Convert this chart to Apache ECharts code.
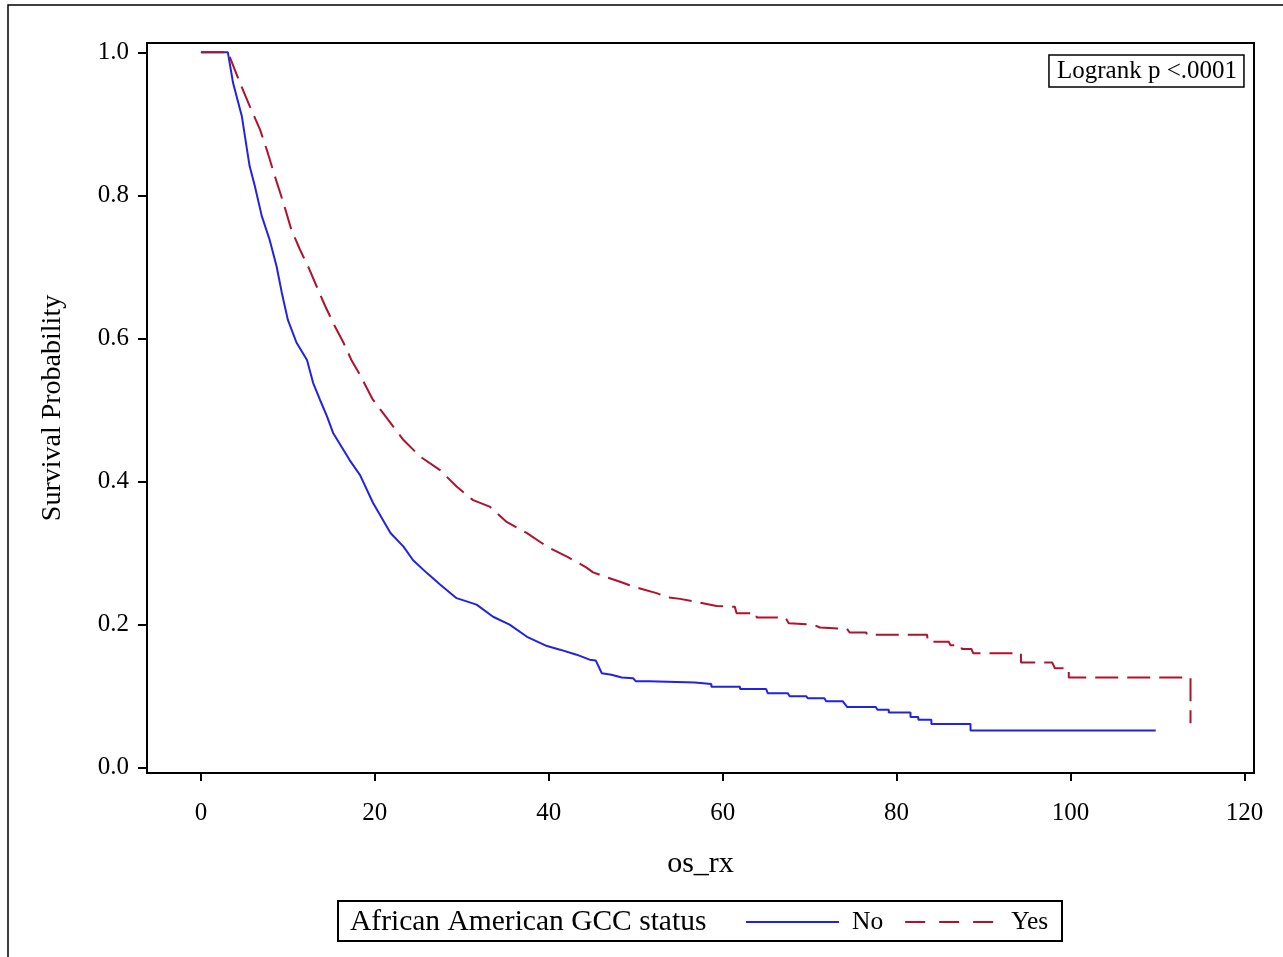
<!DOCTYPE html>
<html>
<head>
<meta charset="utf-8">
<script src="https://cdn.jsdelivr.net/npm/echarts@6/dist/echarts.min.js"></script>
<style>
html,body{margin:0;padding:0;background:#fff;}
#chart{width:1283px;height:957px;}
</style>
</head>
<body>
<div id="chart"></div>
<script>
// ---- Data (Kaplan-Meier estimates) ----
const xTicks = [0, 20, 40, 60, 80, 100, 120];
const yTicks = [0.0, 0.2, 0.4, 0.6, 0.8, 1.0];

const noTime = [0, 3.1, 3.7, 4.7, 5.3, 5.6, 6.2, 7.0, 7.9, 8.7, 9.3, 10.0, 11.0, 12.2, 12.9, 13.7, 14.5, 15.2, 16.4, 17.1, 18.3, 19.8, 21.8, 23.3, 24.4, 26.0, 27.5, 29.4, 31.7, 33.6, 35.5, 37.5, 39.8, 41.3, 43.2, 44.7, 45.4, 46.1, 47.2, 48.4, 49.7, 50.0, 51.5, 51.5, 56.8, 56.8, 58.7, 58.7, 62.0, 62.0, 65.0, 65.2, 67.5, 67.7, 69.6, 69.8, 71.7, 71.9, 73.8, 74.3, 77.6, 77.8, 79.1, 79.1, 81.6, 81.6, 82.5, 82.5, 84.0, 84.0, 88.5, 88.5, 109.8];
const noSurv = [1.0, 1.0, 0.957, 0.911, 0.864, 0.841, 0.813, 0.771, 0.738, 0.701, 0.664, 0.626, 0.594, 0.570, 0.538, 0.514, 0.491, 0.468, 0.444, 0.430, 0.409, 0.370, 0.328, 0.309, 0.290, 0.272, 0.256, 0.237, 0.228, 0.211, 0.200, 0.183, 0.170, 0.165, 0.158, 0.151, 0.150, 0.132, 0.130, 0.126, 0.125, 0.121, 0.121, 0.119, 0.119, 0.117, 0.117, 0.113, 0.113, 0.110, 0.110, 0.104, 0.104, 0.100, 0.100, 0.097, 0.097, 0.093, 0.093, 0.085, 0.085, 0.081, 0.081, 0.077, 0.077, 0.071, 0.071, 0.067, 0.067, 0.061, 0.061, 0.052, 0.052];

const yesTime = [0, 3.1, 4.5, 5.6, 6.8, 7.7, 8.5, 9.5, 10.4, 11.4, 12.5, 13.3, 14.3, 15.4, 16.4, 17.3, 18.3, 19.7, 20.8, 22.1, 23.3, 25.2, 27.5, 29.4, 31.3, 33.2, 35.1, 37.5, 39.8, 42.1, 44.3, 45.1, 46.7, 48.2, 49.3, 50.9, 52.4, 53.7, 55.1, 56.8, 59.3, 61.4, 61.6, 63.9, 63.9, 67.2, 67.6, 70.4, 71.2, 74.3, 74.6, 76.5, 76.6, 83.5, 83.6, 86.0, 86.2, 87.4, 87.5, 88.6, 88.8, 94.3, 94.3, 97.9, 98.2, 99.8, 99.8, 113.8, 113.8];
const yesSurv = [1.0, 1.0, 0.957, 0.925, 0.892, 0.859, 0.827, 0.789, 0.752, 0.724, 0.696, 0.673, 0.645, 0.617, 0.594, 0.570, 0.549, 0.516, 0.498, 0.477, 0.458, 0.435, 0.416, 0.393, 0.374, 0.365, 0.344, 0.328, 0.309, 0.295, 0.280, 0.273, 0.266, 0.260, 0.255, 0.249, 0.244, 0.238, 0.236, 0.232, 0.226, 0.225, 0.216, 0.216, 0.210, 0.210, 0.202, 0.200, 0.196, 0.194, 0.189, 0.189, 0.186, 0.186, 0.176, 0.176, 0.171, 0.171, 0.166, 0.166, 0.160, 0.160, 0.147, 0.147, 0.139, 0.139, 0.126, 0.126, 0.062];

const seriesNames = ['No', 'Yes'];
const legendTitle = 'African American GCC status';
const xTitle = 'os_rx';
const yTitle = 'Survival Probability';
const pText = 'Logrank p <.0001';

const zip = (a, b) => a.map((v, i) => [v, b[i]]);

const FONT = '"Liberation Serif", "Times New Roman", serif';
const BLUE = '#2222e6';
const RED = '#b0122e';
const chart = echarts.init(document.getElementById('chart'), null, {renderer: 'canvas'});

chart.setOption({
  animation: false,
  backgroundColor: '#fff',
  textStyle: {fontFamily: FONT, color: '#000'},
  grid: {left: 147, right: 29, top: 43, bottom: 184, show: true, borderColor: '#000', borderWidth: 2, containLabel: false},
  title: {
    text: pText, right: 39, top: 55,
    borderColor: '#000', borderWidth: 1.5, padding: [4, 7, 3, 8],
    textStyle: {fontFamily: FONT, fontSize: 25, fontWeight: 'normal', color: '#000'}
  },
  xAxis: {
    type: 'value', min: -6.2, max: 121.1,
    name: xTitle, nameLocation: 'middle', nameGap: 76,
    nameTextStyle: {fontFamily: FONT, fontSize: 30, color: '#000'},
    splitLine: {show: false},
    axisLine: {show: true, onZero: false, lineStyle: {color: '#000', width: 2}},
    axisTick: {show: true, inside: false, length: 8, lineStyle: {color: '#000', width: 2}, customValues: xTicks},
    axisLabel: {customValues: xTicks, fontFamily: FONT, fontSize: 25, color: '#000', margin: 28,
      formatter: v => String(Math.round(v))}
  },
  yAxis: {
    type: 'value', min: -0.0074, max: 1.013,
    name: yTitle, nameLocation: 'middle', nameGap: 80, nameRotate: 90,
    nameTextStyle: {fontFamily: FONT, fontSize: 28, color: '#000'},
    splitLine: {show: false},
    axisLine: {show: true, onZero: false, lineStyle: {color: '#000', width: 2}},
    axisTick: {show: true, inside: false, length: 9, lineStyle: {color: '#000', width: 2}, customValues: yTicks},
    axisLabel: {customValues: yTicks, fontFamily: FONT, fontSize: 25, color: '#000', margin: 18,
      formatter: v => v.toFixed(1)}
  },
  legend: {
    show: true, left: 745, top: 907, padding: 0,
    itemWidth: 93, itemHeight: 16, itemGap: 21,
    itemStyle: {opacity: 0, borderWidth: 0},
    data: [
      {name: seriesNames[0]},
      {name: seriesNames[1], lineStyle: {type: [20, 14]}}
    ],
    textStyle: {fontFamily: FONT, fontSize: 25.5, lineHeight: 30, color: '#000', padding: [0, 0, 0, 8]}
  },
  series: [
    {
      name: seriesNames[0], type: 'line', data: zip(noTime, noSurv), showSymbol: false, symbol: 'none',
      lineStyle: {color: BLUE, width: 2}, itemStyle: {color: BLUE}, z: 2
    },
    {
      name: seriesNames[1], type: 'line', data: zip(yesTime, yesSurv), showSymbol: false, symbol: 'none',
      lineStyle: {color: RED, width: 2, type: [23, 9]}, itemStyle: {color: RED}, z: 3
    }
  ],
  graphic: [
    {type: 'rect', shape: {x: 8, y: 5, width: 1400, height: 1100}, style: {fill: 'none', stroke: '#000', lineWidth: 1.5}, silent: true},
    {type: 'rect', shape: {x: 338, y: 901, width: 724, height: 40}, style: {fill: 'none', stroke: '#000', lineWidth: 2}, silent: true},
    {type: 'text', x: 350, y: 922, style: {text: legendTitle, font: '29.5px ' + FONT, fill: '#000', textVerticalAlign: 'middle'}, silent: true}
  ]
});
</script>
</body>
</html>
